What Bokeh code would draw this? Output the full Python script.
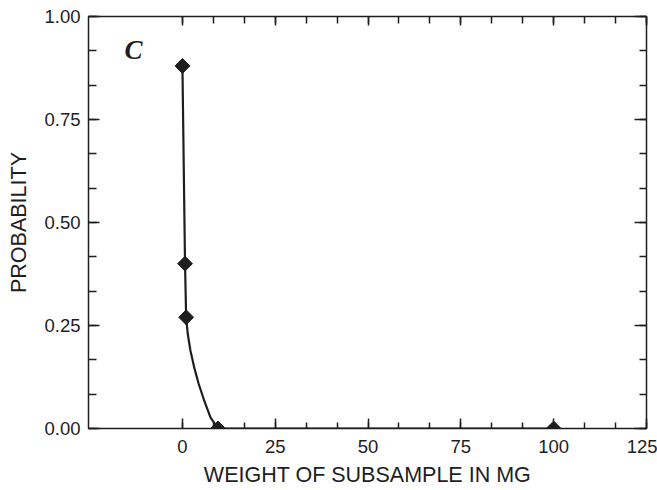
from bokeh.plotting import figure
from bokeh.models import Range1d, LinearAxis, FixedTicker, SingleIntervalTicker, PrintfTickFormatter, Label, CustomJSTickFormatter
from bokeh.embed import file_html
from bokeh.resources import INLINE

# observed points
obs_x = [0.0, 0.7, 1.0, 9.6, 100.0]
obs_y = [0.88, 0.40, 0.27, 0.0, 0.0]

# fitted curve
fit_x = [0.0, 0.7, 1.0, 1.43, 2.16, 3.15, 4.39, 5.85, 7.55, 9.6, 100.0]
fit_y = [0.88, 0.40, 0.27, 0.230, 0.189, 0.149, 0.108, 0.068, 0.027, 0.0, 0.0]

x_major = [0, 25, 50, 75, 100, 125]
x_minor = [0, 25/3, 50/3, 25, 100/3, 125/3, 50, 175/3, 200/3, 75, 250/3, 275/3, 100, 325/3, 350/3, 125]

INK = "#1e1e1e"
FONT = "Liberation Sans"

p = figure(width=657, height=490, x_range=Range1d(-25.3, 125), y_range=Range1d(0, 1),
           output_backend="svg", toolbar_location=None,
           min_border_left=88, min_border_right=11, min_border_top=16, min_border_bottom=62,
           x_axis_label="WEIGHT OF SUBSAMPLE IN MG", y_axis_label="PROBABILITY")
p.grid.visible = False
p.background_fill_color = "white"
p.border_fill_color = "white"
p.outline_line_color = INK
p.outline_line_width = 1.5

xt = FixedTicker(ticks=x_major, minor_ticks=x_minor)
yt = SingleIntervalTicker(interval=0.25, num_minor_ticks=3)

def style(ax, major_in, minor_in, labels=True):
    ax.axis_line_color = None
    ax.major_tick_out = 0
    ax.minor_tick_out = 0
    ax.major_tick_in = major_in
    ax.minor_tick_in = minor_in
    ax.major_tick_line_color = INK
    ax.minor_tick_line_color = INK
    ax.major_tick_line_width = 1.5
    ax.minor_tick_line_width = 1.5
    if labels:
        ax.major_label_text_font = FONT
        ax.major_label_text_font_size = "18.5px"
        ax.major_label_text_color = INK
        ax.axis_label_text_font = FONT
        ax.axis_label_text_font_size = "21.5px"
        ax.axis_label_text_font_style = "normal"
        ax.axis_label_text_color = INK
    else:
        ax.formatter = CustomJSTickFormatter(code="return ''")
        ax.major_label_standoff = 0

xa = p.xaxis[0]
xa.ticker = xt
style(xa, 10, 6)
xa.major_label_standoff = 11
xa.axis_label_standoff = 7

ya = p.yaxis[0]
ya.ticker = yt
ya.formatter = PrintfTickFormatter(format="%.2f")
style(ya, 11, 8)
ya.major_label_standoff = 8
ya.axis_label_standoff = 10

top = LinearAxis(ticker=xt)
style(top, 9, 7, labels=False)
p.add_layout(top, "above")

right = LinearAxis(ticker=yt)
style(right, 12, 7, labels=False)
p.add_layout(right, "right")

p.line(fit_x, fit_y, line_color=INK, line_width=2.2)
p.scatter(obs_x, obs_y, marker="square", angle=0.785398, size=10.5,
          fill_color=INK, line_color=INK, line_width=1)

p.add_layout(Label(x=-15.6, y=0.918, text="C", text_font="Liberation Serif",
                   text_font_style="bold italic", text_font_size="27px", text_color=INK,
                   text_baseline="alphabetic"))

open("out.html", "w").write(file_html(p, INLINE))
